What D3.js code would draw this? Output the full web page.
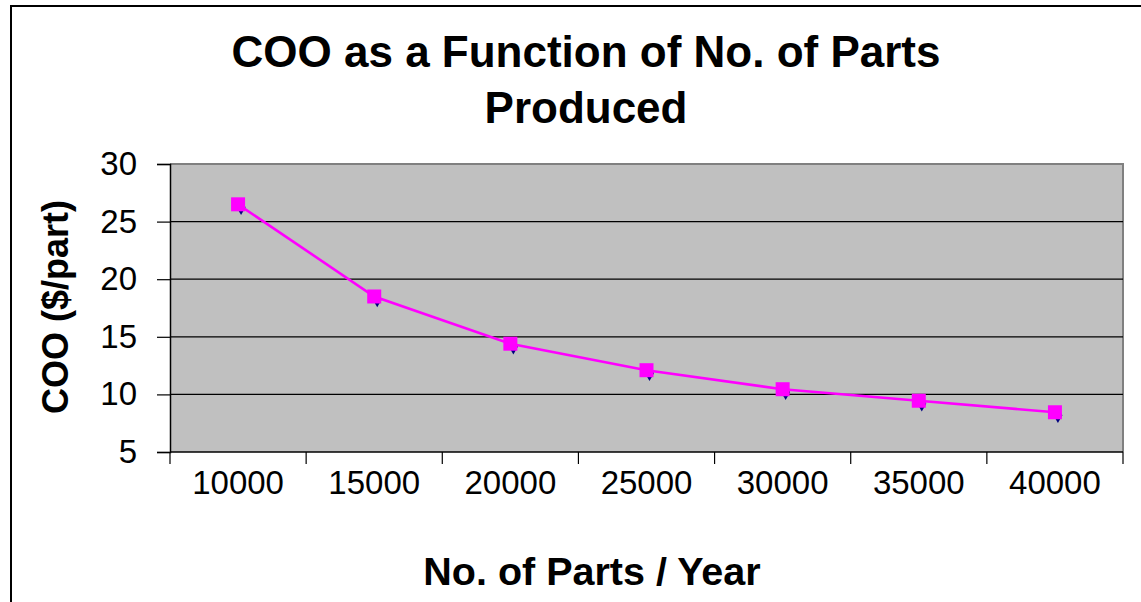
<!DOCTYPE html>
<html><head><meta charset="utf-8">
<script src="https://cdn.jsdelivr.net/npm/d3@7"></script>
<style>html,body{margin:0;padding:0;background:#fff;}svg{display:block;font-family:"Liberation Sans",Arial,sans-serif;}</style>
</head><body>
<svg id="c" width="1141" height="602"></svg>
<script>
const categories = ["10000","15000","20000","25000","30000","35000","40000"];
const coo = [26.5, 18.5, 14.4, 12.1, 10.45, 9.45, 8.45];
const yTicks = [5, 10, 15, 20, 25, 30];
const titleLines = ["COO as a Function of No. of Parts", "Produced"];
const xTitle = "No. of Parts / Year";
const yTitle = "COO ($/part)";

const svg = d3.select("#c");
const L = 170, R = 1123, T = 164, B = 452;

// outer chart area border
svg.append("rect").attr("x", 11).attr("y", 6).attr("width", 1160).attr("height", 620)
  .attr("fill", "#fff").attr("stroke", "#000").attr("stroke-width", 2);

const x = d3.scaleBand().domain(categories).range([L, R]);
const y = d3.scaleLinear().domain([5, 30]).range([B, T]);

// plot area
svg.append("rect").attr("x", L).attr("y", T).attr("width", R - L).attr("height", B - T)
  .attr("fill", "#C0C0C0");
svg.append("path").attr("d", `M${L},${T}H${R}V${B}`).attr("fill", "none")
  .attr("stroke", "#808080").attr("stroke-width", 2);

// gridlines
svg.append("g").selectAll("line").data(yTicks.filter(v => v > 5 && v < 30)).join("line")
  .attr("x1", L).attr("x2", R).attr("y1", d => y(d)).attr("y2", d => y(d))
  .attr("stroke", "#000").attr("stroke-width", 1.2);

// y axis
const ya = svg.append("g").attr("transform", `translate(${L},0)`)
  .call(d3.axisLeft(y).tickValues(yTicks).tickSize(13).tickPadding(20).tickFormat(d3.format("d")));
ya.select(".domain").attr("stroke", "#000").attr("stroke-width", 1.5);
ya.selectAll(".tick line").attr("stroke", "#000").attr("stroke-width", 1.2);
ya.selectAll("text").attr("font-size", 33).attr("fill", "#000").attr("font-family", "Liberation Sans, Arial, sans-serif");

// x axis (labels centered, ticks at band boundaries)
const xa = svg.append("g").attr("transform", `translate(0,${B})`)
  .call(d3.axisBottom(x).tickSize(0).tickPadding(19));
xa.select(".domain").remove();
xa.selectAll("text").attr("font-size", 33).attr("fill", "#000").attr("font-family", "Liberation Sans, Arial, sans-serif");
svg.append("line").attr("x1", L).attr("x2", R).attr("y1", B).attr("y2", B)
  .attr("stroke", "#000").attr("stroke-width", 1.5);
const bounds = categories.map(c => x(c)).concat([x.range()[1]]);
svg.append("g").selectAll("line").data(bounds).join("line")
  .attr("x1", d => d).attr("x2", d => d).attr("y1", B).attr("y2", B + 12)
  .attr("stroke", "#000").attr("stroke-width", 1.2);

const cx = c => x(c) + x.bandwidth() / 2;

// series 1 diamonds (navy), partly hidden
svg.append("g").selectAll("path").data(categories).join("path")
  .attr("d", d3.symbol().type(d3.symbolDiamond).size(70))
  .attr("transform", (c, i) => `translate(${cx(c) + 3},${y(coo[i]) + 3})`)
  .attr("fill", "#000080");

// series 2 line + squares (magenta)
const line = d3.line().x((d, i) => cx(categories[i])).y(d => y(d));
svg.append("path").datum(coo).attr("d", line).attr("fill", "none")
  .attr("stroke", "#FF00FF").attr("stroke-width", 2.6);
svg.append("g").selectAll("rect").data(categories).join("rect")
  .attr("x", (c) => cx(c) - 7).attr("y", (c, i) => y(coo[i]) - 7)
  .attr("width", 14).attr("height", 14).attr("fill", "#FF00FF");

// titles
svg.append("text").attr("x", 586).attr("y", 67).attr("text-anchor", "middle")
  .attr("font-size", 44).attr("font-weight", "bold").text(titleLines[0]);
svg.append("text").attr("x", 586).attr("y", 123).attr("text-anchor", "middle")
  .attr("font-size", 44).attr("font-weight", "bold").text(titleLines[1]);
svg.append("text").attr("x", 592).attr("y", 585).attr("text-anchor", "middle")
  .attr("font-size", 39.5).attr("font-weight", "bold").text(xTitle);
svg.append("text").attr("transform", "translate(68,307) rotate(-90)").attr("text-anchor", "middle")
  .attr("font-size", 36).attr("font-weight", "bold").text(yTitle);
</script>
</body></html>
